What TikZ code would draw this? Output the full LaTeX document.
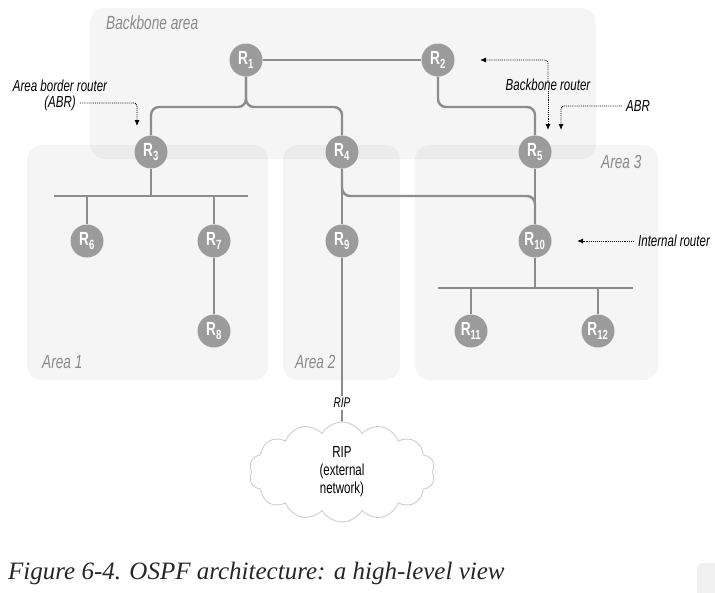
\documentclass[tikz,border=0pt]{standalone}
\usepackage{fontspec}
\setmainfont{Liberation Serif}
\newfontfamily\cnd[FakeStretch=0.72]{Liberation Sans}
\usetikzlibrary{arrows.meta,shapes.symbols}
\definecolor{rfill}{HTML}{9B9B9B}
\definecolor{lcol}{HTML}{8C8C8C}
\definecolor{atxt}{HTML}{8A8A8A}
\pgfdeclarelayer{bg}
\pgfdeclarelayer{lines}
\pgfsetlayers{bg,lines,main}
\tikzset{
  router/.style={circle, fill=rfill, minimum size=33pt, inner sep=0pt, text=white, font=\cnd\bfseries\fontsize{19}{19}\selectfont},
  link/.style={draw=lcol, line width=2.4pt, rounded corners=8pt},
  area/.style={fill=black, fill opacity=0.04, rounded corners=15pt},
  areatxt/.style={text=atxt, font=\cnd\itshape\fontsize{19}{19}\selectfont, anchor=west, inner sep=0pt},
  note/.style={font=\cnd\itshape\fontsize{16}{16}\selectfont, inner sep=0pt},
  callout/.style={densely dotted, line width=0.9pt, rounded corners=3pt, -{Latex[length=6pt,width=5pt]}},
}
\begin{document}
\begin{tikzpicture}[x=1pt,y=-1pt]
\useasboundingbox (0,0) rectangle (715,592);
% areas
\begin{pgfonlayer}{bg}
\fill[area] (90,8) rectangle (596,159);
\fill[area] (27,145) rectangle (268,380);
\fill[area] (283,145) rectangle (400,380);
\fill[area] (415,145) rectangle (658,380);
\fill[black!6, rounded corners=6pt] (697,563) rectangle (725,600);
\end{pgfonlayer}
\node[areatxt] (lbb) at (106,23) {Backbone area};
\node[areatxt] (la3) at (601,162) {Area 3};
\node[areatxt] (la1) at (42,362) {Area 1};
\node[areatxt] (la2) at (295,362) {Area 2};
% cloud
\node[cloud, cloud puffs=14, cloud puff arc=120, aspect=2.0, minimum width=186pt, minimum height=100pt, draw=black!18, line width=1pt, fill=white, align=center, font=\cnd\fontsize{16}{18}\selectfont] (cl) at (342,472) {RIP\\(external\\network)};
% routers
\node[router] (R1) at (246,60) {R\textsubscript{1}};
\node[router] (R2) at (438,60) {R\textsubscript{2}};
\node[router] (R3) at (151,152) {R\textsubscript{3}};
\node[router] (R4) at (342,152) {R\textsubscript{4}};
\node[router] (R5) at (535,152) {R\textsubscript{5}};
\node[router] (R6) at (87,241) {R\textsubscript{6}};
\node[router] (R7) at (214,241) {R\textsubscript{7}};
\node[router] (R8) at (214,331) {R\textsubscript{8}};
\node[router] (R9) at (342,241) {R\textsubscript{9}};
\node[router] (R10) at (535,241) {R\textsubscript{10}};
\node[router] (R11) at (471,331) {R\textsubscript{11}};
\node[router] (R12) at (598,331) {R\textsubscript{12}};
\node[font=\cnd\itshape\fontsize{14}{14}\selectfont, inner sep=2pt] (rip) at (342,403) {RIP};
% bus coordinates
\coordinate (j1) at (246,107);
\coordinate (j2) at (438,107);
\coordinate (bus1l) at (54,196);
\coordinate (bus1r) at (248,196);
\coordinate (bus3l) at (438,288);
\coordinate (bus3r) at (633,288);
\coordinate (j4) at (342,196);
\begin{pgfonlayer}{lines}
\draw[link] (R1) -- (R2);
\draw[link] (R1) -- (j1) -| (R3);
\draw[link] (R1) -- (j1) -| (R4);
\draw[link] (R2) -- (j2) -| (R5);
\draw[link, rounded corners=0pt] (R3) -- (R3 |- bus1l);
\draw[link, rounded corners=0pt] (bus1l) -- (bus1r);
\draw[link, rounded corners=0pt] (R6 |- bus1l) -- (R6);
\draw[link, rounded corners=0pt] (R7 |- bus1l) -- (R7);
\draw[link] (R7) -- (R8);
\draw[link] (R4) -- (R9);
\draw[link] (R4) -- (j4) -| (R10);
\draw[link] (R5) -- (R10);
\draw[link, rounded corners=0pt] (R10) -- (R10 |- bus3l);
\draw[link, rounded corners=0pt] (bus3l) -- (bus3r);
\draw[link, rounded corners=0pt] (R11 |- bus3l) -- (R11);
\draw[link, rounded corners=0pt] (R12 |- bus3l) -- (R12);
\draw[draw=lcol, line width=1.8pt] (R9) -- (rip);
\draw[draw=lcol, line width=1.8pt] (rip) -- (cl.north);
\end{pgfonlayer}
% callouts
\node[note] (abr1) at (60,86) {Area border router};
\node[note] (abr2) at (60,103) {(ABR)};
\coordinate (t3) at (137,126);
\draw[callout] (abr2.east) ++(4pt,0) -| (t3);
\node[note] (bbr) at (548,85) {Backbone router};
\coordinate (t2) at (480,60);
\coordinate (t5a) at (548,130);
\draw[callout] (bbr.north) ++(0,-2pt) |- (t2);
\draw[callout] (bbr.south) ++(0,2pt) -- (t5a);
\node[note] (abr3) at (638,106) {ABR};
\coordinate (t5b) at (561,130);
\draw[callout] (abr3.west) ++(-4pt,0) -| (t5b);
\node[note] (ir) at (674,241) {Internal router};
\coordinate (t10) at (577,241);
\draw[callout] (ir.west) ++(-4pt,0) -- (t10);
% caption
\node[anchor=base west, inner sep=0pt, font=\itshape\fontsize{25}{25}\selectfont, text=black!85] (cap) at (8,579) {Figure 6-4. OSPF architecture: a high-level view};
\end{tikzpicture}
\end{document}
